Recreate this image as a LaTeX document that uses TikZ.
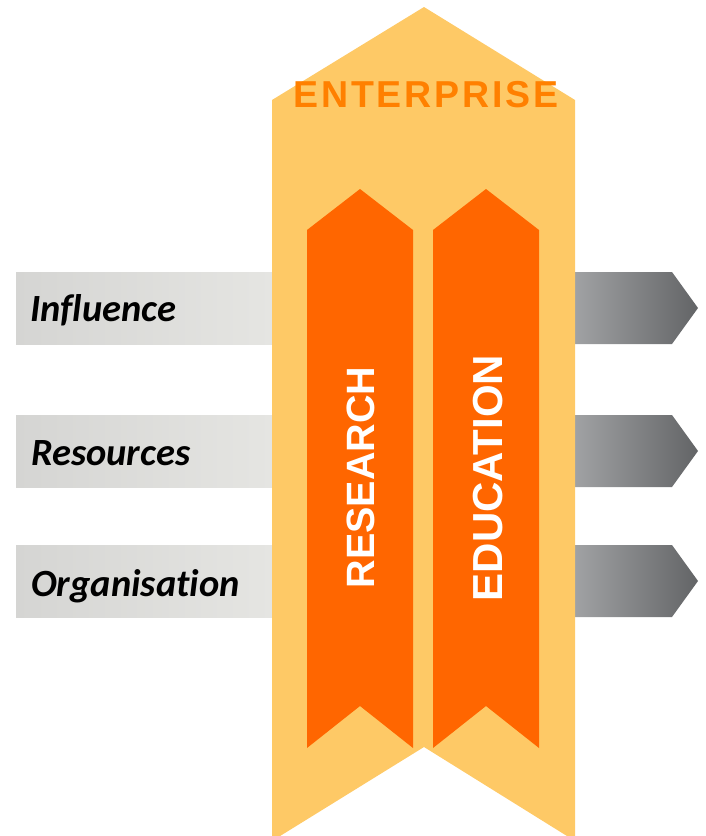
\documentclass[tikz,border=0pt]{standalone}
\usepackage{fontspec}
\setmainfont{Liberation Sans}
\newfontfamily\labelfont[Ligatures=NoCommon]{Carlito}
\newfontfamily\entfont[LetterSpace=7.5]{Liberation Sans}
\definecolor{yel}{HTML}{FEC966}
\definecolor{orn}{HTML}{FF6600}
\definecolor{entc}{HTML}{FF8000}
\definecolor{barL}{HTML}{D5D5D3}
\definecolor{barR}{HTML}{E5E5E2}
\definecolor{arrL}{HTML}{A0A2A4}
\definecolor{arrR}{HTML}{636466}
\begin{document}
\begin{tikzpicture}[x=1pt,y=-1pt,
  barlabel/.style={anchor=base west,inner sep=0pt,font=\labelfont\bfseries\itshape\fontsize{38.5}{41}\selectfont,text=black},
  vlabel/.style={inner sep=0pt,rotate=90,text=white,font=\bfseries\fontsize{39.5}{42}\selectfont}]
\useasboundingbox (0,0) rectangle (705,836);
\clip (0,0) rectangle (705,836);
% grey bars
\foreach \t/\b in {272/344,415/487,545/617}{
  \shade[left color=barL,right color=barR] (16,\t) rectangle (272,\b);
  \shade[left color=arrL,right color=arrR] (575,\t) -- (672,\t) -- (698,{(\t+\b)/2}) -- (672,\b) -- (575,\b) -- cycle;
}
% enterprise arrow
\fill[yel] (272,100) -- (424,7) -- (575,100) -- (575,841) -- (424,747) -- (272,841) -- cycle;
% research / education arrows
\fill[orn] (307,230) -- (360,189) -- (413,230) -- (413,748) -- (360,706) -- (307,748) -- cycle;
\fill[orn] (433,230) -- (486,189) -- (539,230) -- (539,748) -- (486,706) -- (433,748) -- cycle;
% labels
\node[barlabel] (infl) at (30,321) {Influence};
\node[barlabel] (reso) at (31,465) {Resources};
\node[barlabel] (orga) at (31,596) {Organisation};
\node[inner sep=0pt,text=entc,font=\entfont\bfseries\fontsize{37.5}{40}\selectfont] (ent) at (426,94.5) {ENTERPRISE};
\node[vlabel] (res) at (361,477.5) {RESEARCH};
\node[vlabel,font=\bfseries\fontsize{42}{45}\selectfont] (edu) at (488,478) {EDUCATION};
\end{tikzpicture}
\end{document}
